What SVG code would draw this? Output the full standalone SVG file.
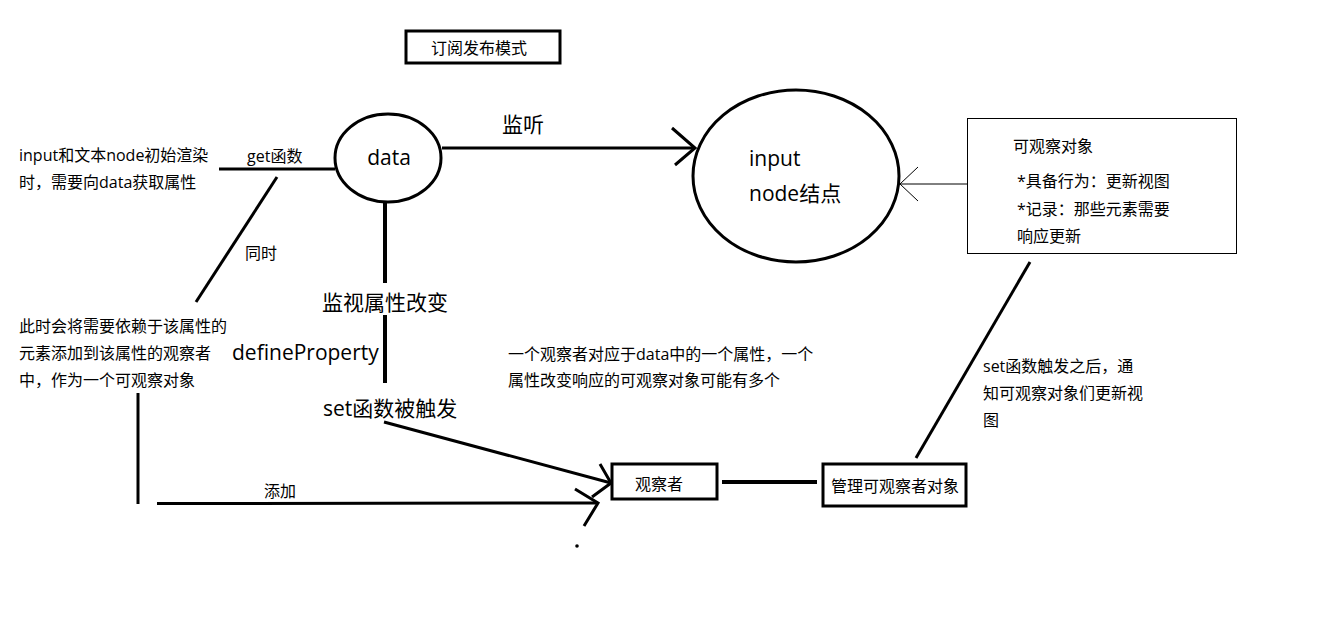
<svg xmlns="http://www.w3.org/2000/svg" width="1344" height="636" viewBox="0 0 1344 636">
<style>
  text { font-family: "Open Sans", "Noto Sans CJK SC", sans-serif; fill: #000; }
  .s { font-size: 16px; }
  .m { font-size: 21px; }
  .shape { fill: none; stroke: #000; stroke-width: 3; }
  .thin { fill: none; stroke: #000; stroke-width: 1; }
  .ln { fill: none; stroke: #000; stroke-width: 3; stroke-linecap: butt; }
  .ln4 { fill: none; stroke: #000; stroke-width: 4; }
</style>
<rect width="1344" height="636" fill="#fff"/>

<g id="title">
  <rect class="shape" x="406" y="31" width="154" height="32"/>
  <text class="s" x="431" y="54">订阅发布模式</text>
</g>

<g id="data">
  <ellipse class="shape" cx="388" cy="158" rx="53" ry="44"/>
  <text class="m" x="389" y="165" text-anchor="middle">data</text>
</g>

<g id="input-node">
  <ellipse class="shape" cx="796" cy="176" rx="103" ry="86"/>
  <text class="m" x="749" y="166">input</text>
  <text class="m" x="749" y="201">node结点</text>
</g>

<g id="observable">
  <rect class="thin" x="967.5" y="118.5" width="269" height="135"/>
  <text class="s" x="1013" y="152">可观察对象</text>
  <text class="s" x="1017" y="187">*具备行为：更新视图</text>
  <text class="s" x="1017" y="215">*记录：那些元素需要</text>
  <text class="s" x="1017" y="242">响应更新</text>
</g>

<g id="observer">
  <rect class="shape" x="612" y="464" width="105" height="35"/>
  <text class="s" x="635" y="490">观察者</text>
</g>

<g id="manager">
  <rect class="shape" x="823" y="464" width="143" height="42"/>
  <text class="s" x="831" y="492">管理可观察者对象</text>
</g>

<g id="labels">
  <text class="s" x="19" y="161">input和文本node初始渲染</text>
  <text class="s" x="19" y="188">时，需要向data获取属性</text>
  <text class="s" x="247" y="162">get函数</text>
  <text class="s" x="245" y="259">同时</text>
  <text class="s" x="19" y="332">此时会将需要依赖于该属性的</text>
  <text class="s" x="19" y="359">元素添加到该属性的观察者</text>
  <text class="s" x="19" y="386">中，作为一个可观察对象</text>
  <text class="m" x="502" y="132">监听</text>
  <text class="m" x="322" y="310">监视属性改变</text>
  <text class="m" x="232" y="360">defineProperty</text>
  <text class="m" x="323" y="416">set函数被触发</text>
  <text class="s" x="508" y="360">一个观察者对应于data中的一个属性，一个</text>
  <text class="s" x="508" y="386">属性改变响应的可观察对象可能有多个</text>
  <text class="s" x="264" y="497">添加</text>
  <text class="s" x="983" y="372">set函数触发之后，通</text>
  <text class="s" x="983" y="399">知可观察对象们更新视</text>
  <text class="s" x="983" y="426">图</text>
</g>

<g id="connectors">
  <!-- data -> input node (监听) -->
  <line class="ln" x1="442" y1="148" x2="695" y2="148"/>
  <polyline class="ln" points="672,128 695,148 675,165"/>
  <!-- get函数 line -->
  <line class="ln" x1="219" y1="169" x2="335" y2="169"/>
  <!-- 同时 diagonal -->
  <line class="ln" x1="277" y1="177" x2="196" y2="302"/>
  <!-- data vertical -->
  <line class="ln4" x1="385" y1="202" x2="385" y2="283"/>
  <line class="ln4" x1="385" y1="315" x2="385" y2="383"/>
  <!-- set -> observer -->
  <line class="ln" x1="384" y1="422" x2="611" y2="483"/>
  <polyline class="ln" points="600,464 611,483 592,497"/>
  <!-- left vertical -->
  <line class="ln" x1="138" y1="393" x2="138" y2="504"/>
  <!-- 添加 line -->
  <line class="ln" x1="157" y1="503.5" x2="598" y2="503"/>
  <polyline class="ln" points="575,489 598,503 584,526"/>
  <circle cx="577" cy="546" r="1.8" fill="#000"/>
  <!-- observer - manager -->
  <line class="ln4" x1="722" y1="482" x2="817" y2="482"/>
  <!-- manager -> observable -->
  <line class="ln" x1="916" y1="458" x2="1030" y2="262"/>
  <!-- observable -> input node -->
  <line class="thin" x1="900" y1="184" x2="967" y2="184"/>
  <polyline class="thin" points="918,167 900,184 918,201"/>
</g>
</svg>
